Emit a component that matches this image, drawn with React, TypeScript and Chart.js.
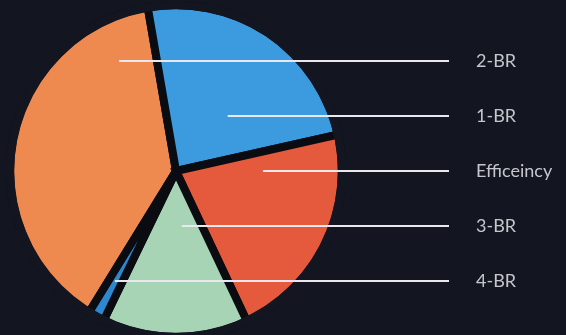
import React, { useEffect, useRef } from "react";
import { Chart, registerables } from "chart.js";

Chart.register(...registerables);

const categories = ["2-BR", "1-BR", "Efficeincy", "3-BR", "4-BR"];
const shares = [38.5, 24.2, 21.5, 14.2, 1.6];
const sliceColors = ["#EE8A4F", "#3C9BDF", "#E5593C", "#A8D4B6", "#2E88D0"];

const BG = "#131520";

const rimPlugin = {
  id: "rimCover",
  afterDatasetsDraw(chart: any, _args: any, opts: any) {
    const meta = chart.getDatasetMeta(0);
    const arcs = meta.data;
    if (!arcs.length) return;
    const a = arcs[0];
    const ctx = chart.ctx;
    ctx.save();
    ctx.strokeStyle = opts.color;
    ctx.lineWidth = opts.width;
    ctx.beginPath();
    ctx.arc(a.x, a.y, a.outerRadius, 0, Math.PI * 2);
    ctx.stroke();
    ctx.restore();
  },
};

const leaderPlugin = {
  id: "leaderLabels",
  afterDatasetsDraw(chart: any, _args: any, opts: any) {
    const meta = chart.getDatasetMeta(0);
    const ctx = chart.ctx;
    const arcs = meta.data;
    if (!arcs.length) return;
    const cy = arcs[0].y;
    const n = arcs.length;
    ctx.save();
    for (let i = 0; i < n; i++) {
      const arc = arcs[i];
      const y = cy + (i - (n - 1) / 2) * opts.spacing;
      let minX = Infinity;
      let maxX = -Infinity;
      for (let x = 0; x < chart.width; x += 0.5) {
        if (arc.inRange(x, y)) {
          if (x < minX) minX = x;
          if (x > maxX) maxX = x;
        }
      }
      const f = opts.startFractions[i] ?? 0.5;
      const sx = isFinite(minX) ? minX + f * (maxX - minX) : arc.x;
      ctx.strokeStyle = opts.lineColor;
      ctx.lineWidth = opts.lineWidth;
      ctx.beginPath();
      ctx.moveTo(sx, y);
      ctx.lineTo(opts.lineEnd, y);
      ctx.stroke();
      ctx.fillStyle = opts.textColor;
      ctx.font = opts.font;
      ctx.textBaseline = "middle";
      ctx.textAlign = "left";
      ctx.fillText(chart.data.labels[i], opts.textX, y);
    }
    ctx.restore();
  },
};

export default function App() {
  const ref = useRef<HTMLCanvasElement>(null);

  useEffect(() => {
    document.body.style.margin = "0";
    document.body.style.background = BG;
    const chart = new Chart(ref.current as HTMLCanvasElement, {
      type: "pie",
      data: {
        labels: categories,
        datasets: [
          {
            data: shares,
            backgroundColor: sliceColors,
            borderColor: "#0b0c12",
            borderWidth: 8,
            borderJoinStyle: "miter",
          },
        ],
      },
      options: {
        responsive: false,
        animation: false,
        rotation: 211.6,
        radius: 166,
        layout: { padding: { left: 0, right: 214, top: 7, bottom: 0 } },
        plugins: {
          legend: { display: false },
          tooltip: { enabled: false },
          rimCover: { color: BG, width: 8.5 },
          leaderLabels: {
            spacing: 55,
            startFractions: [0.66, 0.36, 0.5, 0.62, 0.45],
            lineEnd: 449,
            lineWidth: 2.2,
            lineColor: "#e8e8ee",
            textX: 476,
            textColor: "#c6c7cd",
            font: "400 18px Lato",
          },
        } as any,
      },
      plugins: [rimPlugin, leaderPlugin],
    } as any);
    return () => chart.destroy();
  }, []);

  return (
    <div style={{ width: 566, height: 335, background: BG }}>
      <canvas ref={ref} width={566} height={335} />
    </div>
  );
}
